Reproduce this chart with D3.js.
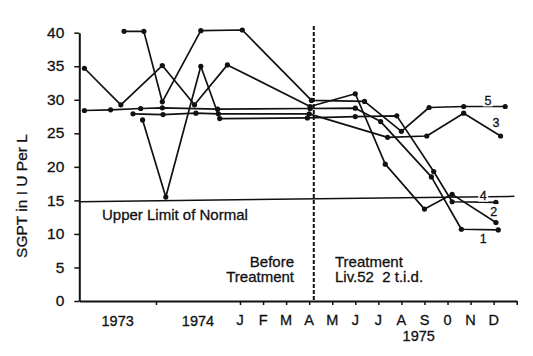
<!DOCTYPE html>
<html>
<head>
<meta charset="utf-8">
<script src="https://cdn.jsdelivr.net/npm/d3@7"></script>
<style>
  html, body { margin: 0; padding: 0; background: #fff; }
  svg { display: block; }
  text { font-family: "Liberation Sans", Arial, sans-serif; fill: #111; stroke: #111; stroke-width: 0.3px; }
</style>
</head>
<body>
<svg id="chart" width="533" height="356"></svg>
<script>
// ---- data (t = months relative to Jan 1975; 1973/1974 are compressed year spans) ----
const yTicks = [0, 5, 10, 15, 20, 25, 30, 35, 40];
const monthLabels = ["J","F","M","A","M","J","J","A","S","0","N","D"];
const monthTicks = [0,1,2,3,4,5,6,7,8,9,10,11,12];
const yearTicks = [-12];
const yearLabels = ["1973", "1974", "1975"];
const yearLabelPos = [-18, -6, 7.75];
const treatmentStart = 3.2;
const upperLimitT = [-24, 11.9];
const upperLimitV = [14.8, 15.6];

const series1T = [-23.2, -19.1, -14.4, -11.1, -3.2, 3.04, 5.0, 6.1, 8.3, 9.6, 11.2];
const series1V = [28.4, 28.5, 28.7, 28.8, 28.6, 28.7, 28.75, 26.75, 18.5, 10.7, 10.6];
const series2T = [-23.2, -17.5, -11.1, -6.5, -1.8, 3.04, 5.0, 6.3, 8.0, 9.2, 11.1];
const series2V = [34.7, 29.25, 35.1, 29.25, 35.2, 29.0, 30.9, 20.4, 13.7, 15.9, 11.7];
const series3T = [-15.6, -11.0, -6.3, -3.1, 3.0, 6.4, 8.1, 9.7, 11.3];
const series3V = [27.9, 27.8, 28.0, 27.9, 27.9, 24.4, 24.6, 28.0, 24.6];
const series4T = [-14.1, -10.6, -5.6, -2.9, 2.92, 5.0, 6.8, 8.4, 9.2, 11.1];
const series4V = [27.0, 15.5, 35.0, 27.2, 27.3, 27.5, 27.6, 19.3, 14.8, 14.7];
const series5T = [-17.0, -13.9, -11.1, -5.6, 0.1, 3.1, 5.4, 7.0, 8.2, 9.7, 11.5];
const series5V = [40.2, 40.2, 29.7, 40.3, 40.4, 29.9, 29.75, 25.3, 28.85, 29.0, 29.0];
const seriesNames = ["1", "2", "3", "4", "5"];
const labelT = [10.55, 11.0, 11.1, 10.55, 10.75];
const labelV = [9.3, 13.4, 26.6, 15.7, 29.9];

const allSeries = [
  {name: seriesNames[0], t: series1T, v: series1V},
  {name: seriesNames[1], t: series2T, v: series2V},
  {name: seriesNames[2], t: series3T, v: series3V},
  {name: seriesNames[3], t: series4T, v: series4V},
  {name: seriesNames[4], t: series5T, v: series5V}
];

// ---- scales ----
const x = d3.scaleLinear().domain([-24, -12, 0, 12]).range([79.3, 156, 240, 516.7]);
const y = d3.scaleLinear().domain([0, 40]).range([301, 32.7]);

const svg = d3.select("#chart");
const ink = "#111";

// upper limit line
svg.append("line")
  .attr("x1", x(upperLimitT[0])).attr("y1", y(upperLimitV[0]))
  .attr("x2", x(upperLimitT[1])).attr("y2", y(upperLimitV[1]))
  .attr("stroke", ink).attr("stroke-width", 1.5);

// treatment start dashed line
svg.append("line")
  .attr("x1", x(treatmentStart)).attr("x2", x(treatmentStart))
  .attr("y1", y(41)).attr("y2", y(0))
  .attr("stroke", ink).attr("stroke-width", 2)
  .attr("stroke-dasharray", "4,2");

// axes
const yAxis = d3.axisLeft(y).tickValues(yTicks).tickSize(5).tickSizeOuter(0).tickPadding(10);
const gy = svg.append("g").attr("transform", `translate(${x(-24)},0)`).call(yAxis);
gy.select(".domain").attr("stroke", ink).attr("stroke-width", 2);
gy.selectAll(".tick line").attr("stroke", ink).attr("stroke-width", 1.5);
gy.selectAll(".tick text")
  .attr("font-size", 15.5).attr("font-family", "Liberation Sans, Arial, sans-serif")
  .attr("fill", ink).attr("dy", "0.3em");

const xAxis = d3.axisBottom(x).tickValues(yearTicks.concat(monthTicks)).tickSize(4).tickSizeOuter(0).tickFormat("");
const gx = svg.append("g").attr("transform", `translate(0,${y(0)})`).call(xAxis);
gx.select(".domain").attr("stroke", ink).attr("stroke-width", 2);
gx.selectAll(".tick line").attr("stroke", ink).attr("stroke-width", 1.5);

// month labels
svg.append("g").selectAll("text").data(monthLabels).join("text")
  .attr("x", (d, i) => x(i)).attr("y", 324.5)
  .attr("text-anchor", "middle").attr("font-size", 14.5)
  .text(d => d);

// year labels
svg.append("g").selectAll("text").data(yearLabels).join("text")
  .attr("x", (d, i) => x(yearLabelPos[i])).attr("y", (d, i) => i < 2 ? 325.5 : 341)
  .attr("text-anchor", "middle").attr("font-size", 14.5)
  .text(d => d);

// y axis title
svg.append("text")
  .attr("transform", "translate(27,196) rotate(-90)")
  .attr("text-anchor", "middle").attr("font-size", 15.5)
  .text("SGPT in I U Per L");

// annotations
svg.append("text").attr("x", 102).attr("y", 220).attr("font-size", 15).text("Upper Limit of Normal");
svg.append("text").attr("x", 294).attr("y", 266.5).attr("text-anchor", "end").attr("font-size", 15).text("Before");
svg.append("text").attr("x", 294).attr("y", 282).attr("text-anchor", "end").attr("font-size", 15).text("Treatment");
svg.append("text").attr("x", 335).attr("y", 266.5).attr("font-size", 15).text("Treatment");
svg.append("text").attr("x", 335).attr("y", 282).attr("font-size", 15)
  .attr("xml:space", "preserve").style("white-space", "pre").text("Liv.52  2 t.i.d.");

// series lines
const line = d3.line().x(d => x(d[0])).y(d => y(d[1]));
allSeries.forEach(s => {
  const pts = s.t.map((t, i) => [t, s.v[i]]);
  svg.append("path").datum(pts)
    .attr("d", line).attr("fill", "none")
    .attr("stroke", ink).attr("stroke-width", 1.7).attr("stroke-linejoin", "round");
  svg.append("g").selectAll("circle").data(pts).join("circle")
    .attr("cx", d => x(d[0])).attr("cy", d => y(d[1])).attr("r", 2.6).attr("fill", ink);
});

// series labels (with white backing to break lines like the original)
seriesNames.forEach((n, i) => {
  const g = svg.append("g");
  g.append("rect")
    .attr("x", x(labelT[i]) - 5).attr("y", y(labelV[i]) - 7)
    .attr("width", 10).attr("height", 13).attr("fill", "#fff");
  g.append("text")
    .attr("x", x(labelT[i])).attr("y", y(labelV[i]) + 4.5)
    .attr("text-anchor", "middle").attr("font-size", 12.5).text(n);
});
</script>
</body>
</html>
